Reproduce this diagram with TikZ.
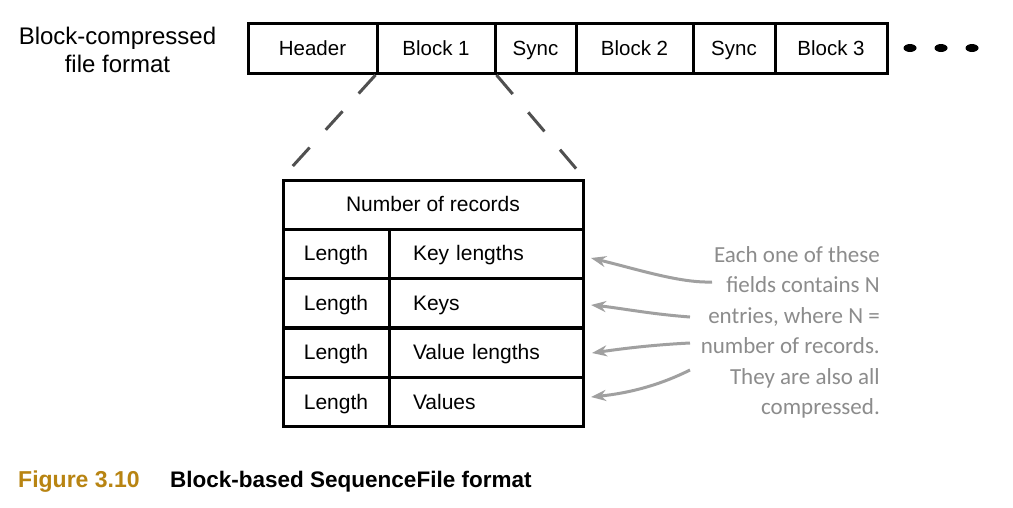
\documentclass[tikz,border=0pt]{standalone}
\usepackage{fontspec}
\setmainfont{Liberation Sans}
\newfontfamily\handfont{Carlito}
\usetikzlibrary{arrows.meta,shapes.geometric}
\definecolor{gold}{RGB}{184,132,18}
\definecolor{dashgray}{RGB}{80,80,80}
\definecolor{notegray}{RGB}{140,140,140}
\definecolor{arrowgray}{RGB}{160,160,160}
\begin{document}
\begin{tikzpicture}[x=1pt,y=-1pt,
  topbox/.style={draw=black,line width=3pt,minimum height=50pt,inner sep=0pt,
    text height=15pt,text depth=2pt,
    font=\fontsize{20.5}{24}\selectfont},
  cell/.style={draw=black,line width=3pt,minimum height=49pt,inner sep=0pt,
    text height=16pt,text depth=1.6pt,
    font=\fontsize{21}{25}\selectfont},
  rcell/.style={cell,text width=146pt,align=left,inner xsep=24pt,minimum width=194pt},
  lcell/.style={cell,minimum width=106pt},
  zoomline/.style={draw=dashgray,line width=3pt,dash pattern=on 25pt off 24pt,shorten >=13pt},
  notearrow/.style={draw=arrowgray,line width=3pt,-{Stealth[length=15pt,width=11pt]}},
  dot/.style={ellipse,fill=black,minimum width=13pt,minimum height=8pt,inner sep=0pt}]
\path[use as bounding box,fill=white] (0,0) rectangle (1013,507);

% left label
\node[align=center,font=\fontsize{24}{28}\selectfont] (lbl) at (117.5,49.5) {Block-compressed\\file format};

% top row
\node[topbox,minimum width=129pt] (hdr) at (312.5,48.5) {Header};
\node[topbox,minimum width=118pt] (b1) at (436,48.5) {Block 1};
\node[topbox,minimum width=81pt] (s1) at (535.5,48.5) {Sync};
\node[topbox,minimum width=117pt] (b2) at (634.5,48.5) {Block 2};
\node[topbox,minimum width=82pt] (s2) at (734,48.5) {Sync};
\node[topbox,minimum width=112pt] (b3) at (831,48.5) {Block 3};
\node[dot] (d1) at (910,48) {};
\node[dot] (d2) at (941,48) {};
\node[dot] (d3) at (972,48) {};

% table
\node[cell,minimum width=300pt] (nr) at (433,204.5) {Number of records};
\node[lcell] (l1) at (336,253.5) {Length};
\node[rcell] (r1) at (486,253.5) {Key lengths};
\node[lcell] (l2) at (336,303) {Length};
\node[rcell] (r2) at (486,303) {Keys};
\node[lcell] (l3) at (336,352.5) {Length};
\node[rcell] (r3) at (486,352.5) {Value lengths};
\node[lcell] (l4) at (336,402) {Length};
\node[rcell] (r4) at (486,402) {Values};

% zoom lines
\draw[zoomline] (b1.south west) -- (nr.north west);
\draw[zoomline] (b1.south east) -- (nr.north east);

% note
\node[anchor=north east,align=right,inner sep=0pt,text=notegray,
  font=\handfont\fontsize{23}{30.5}\selectfont] (note) at (880,246)
  {Each one of these\\fields contains N\\entries, where N =\\number of records.\\They are also all\\compressed.};

\coordinate (a1) at (712,282);
\coordinate (a2) at (690,317);
\coordinate (a3) at (690,343);
\coordinate (a4) at (690,370);
\coordinate (t1) at (591,258);
\coordinate (t2) at (591,305);
\coordinate (t3) at (592,353);
\coordinate (t4) at (591,397);
\draw[notearrow] (a1) .. controls (680,283) and (640,270) .. (t1);
\draw[notearrow] (a2) .. controls (650,314) and (620,308) .. (t2);
\draw[notearrow] (a3) .. controls (650,345) and (620,349) .. (t3);
\draw[notearrow] (a4) .. controls (660,385) and (630,393) .. (t4);

% caption
\node[anchor=base west,inner sep=0pt,text=gold,font=\bfseries\fontsize{23}{27}\selectfont] (fig) at (18,487) {Figure 3.10};
\node[anchor=base west,inner sep=0pt,font=\bfseries\fontsize{22.5}{27}\selectfont] (cap) at (170,487) {Block-based SequenceFile format};
\end{tikzpicture}
\end{document}
